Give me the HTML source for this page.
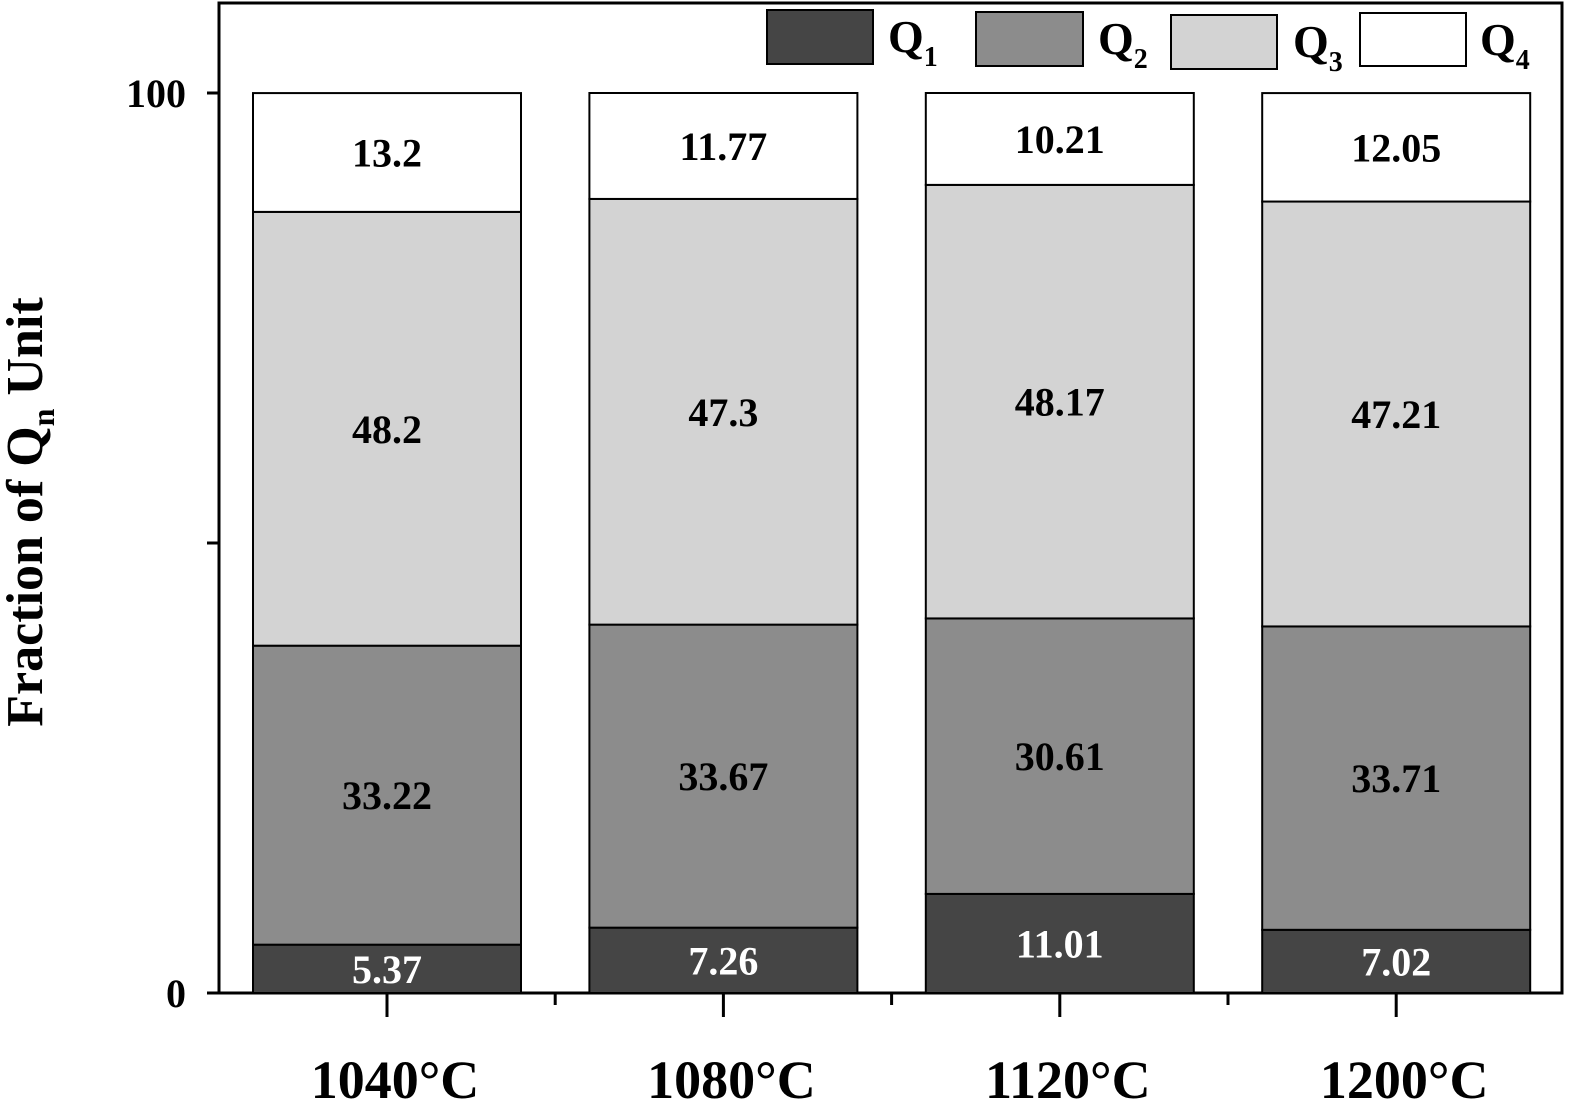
<!DOCTYPE html>
<html><head><meta charset="utf-8"><style>
body{margin:0;background:#fff;}
svg{display:block;font-family:"Liberation Serif",serif;font-weight:bold;}
</style></head><body>
<svg id="chart" width="1575" height="1107" viewBox="0 0 1575 1107">
<rect x="219" y="3" width="1343" height="990" fill="#fff" stroke="#000" stroke-width="3"/>
<text transform="translate(42,512) rotate(-90)" text-anchor="middle" font-size="52">Fraction of Q<tspan font-size="32" dy="12">n</tspan><tspan dy="-12"> Unit</tspan></text>
<g id="legend">
<g><rect x="767" y="10" width="106" height="54" fill="#454545" stroke="#000" stroke-width="2"/><text x="888" y="52" font-size="46">Q<tspan font-size="28" dy="14">1</tspan></text></g>
<g><rect x="976" y="12" width="107" height="54" fill="#8c8c8c" stroke="#000" stroke-width="2"/><text x="1098" y="54" font-size="46">Q<tspan font-size="28" dy="14">2</tspan></text></g>
<g><rect x="1171" y="15" width="106" height="54" fill="#d3d3d3" stroke="#000" stroke-width="2"/><text x="1293" y="57" font-size="46">Q<tspan font-size="28" dy="14">3</tspan></text></g>
<g><rect x="1360" y="13" width="106" height="53" fill="#fff" stroke="#000" stroke-width="2"/><text x="1480" y="55" font-size="46">Q<tspan font-size="28" dy="14">4</tspan></text></g>
</g>
<g id="bars"></g>
<g id="axes"></g>
</svg>
<script>
const categories = ["1040°C","1080°C","1120°C","1200°C"];
const q1 = [5.37, 7.26, 11.01, 7.02];
const q2 = [33.22, 33.67, 30.61, 33.71];
const q3 = [48.2, 47.3, 48.17, 47.21];
const q4 = [13.2, 11.77, 10.21, 12.05];
const yTicks = [0, 50, 100];
const yTickLabels = ["0", "", "100"];

const NS = "http://www.w3.org/2000/svg";
const y = v => 993 - v * 9.0;
const xCenter = i => 387 + i * 336.4;
const barW = 268;
const series = [q1, q2, q3, q4];
const fills = ["#454545", "#8c8c8c", "#d3d3d3", "#ffffff"];
const textFills = ["#fff", "#000", "#000", "#000"];
const bars = document.getElementById("bars");
const axes = document.getElementById("axes");
function mk(tag, attrs, parent) {
  const e = document.createElementNS(NS, tag);
  for (const k in attrs) e.setAttribute(k, attrs[k]);
  parent.appendChild(e);
  return e;
}
categories.forEach((c, i) => {
  let base = 0;
  series.forEach((s, k) => {
    const v = s[i];
    const top = base + v;
    const r = mk("rect", {x: xCenter(i) - barW / 2, y: y(top), width: barW, height: y(base) - y(top), fill: fills[k], stroke: "#000", "stroke-width": 2}, bars);
    
    
    const t = mk("text", {x: xCenter(i), y: (y(base) + y(top)) / 2 + 14, "text-anchor": "middle", "font-size": 40, fill: textFills[k]}, bars);
    t.textContent = String(v);
    
    
    base = top;
  });
  const tk = mk("line", {x1: xCenter(i), x2: xCenter(i), y1: 993, y2: 1017, stroke: "#000", "stroke-width": 3}, axes);
  
  
  if (i < categories.length - 1) {
    const mt = mk("line", {x1: xCenter(i) + 168.2, x2: xCenter(i) + 168.2, y1: 993, y2: 1005, stroke: "#000", "stroke-width": 3}, axes);
    
    
  }
  const lb = mk("text", {x: xCenter(i) + 8, y: 1098, "text-anchor": "middle", "font-size": 54}, axes);
  lb.textContent = c;
  
  
});
yTicks.forEach((v, j) => {
  const l = mk("line", {x1: 207, x2: 219, y1: y(v), y2: y(v), stroke: "#000", "stroke-width": 3}, axes);
  
  
  if (yTickLabels[j]) {
    const t = mk("text", {x: 186, y: y(v) + 14, "text-anchor": "end", "font-size": 40}, axes);
    t.textContent = yTickLabels[j];
    
    
  }
});
</script>
</body></html>
